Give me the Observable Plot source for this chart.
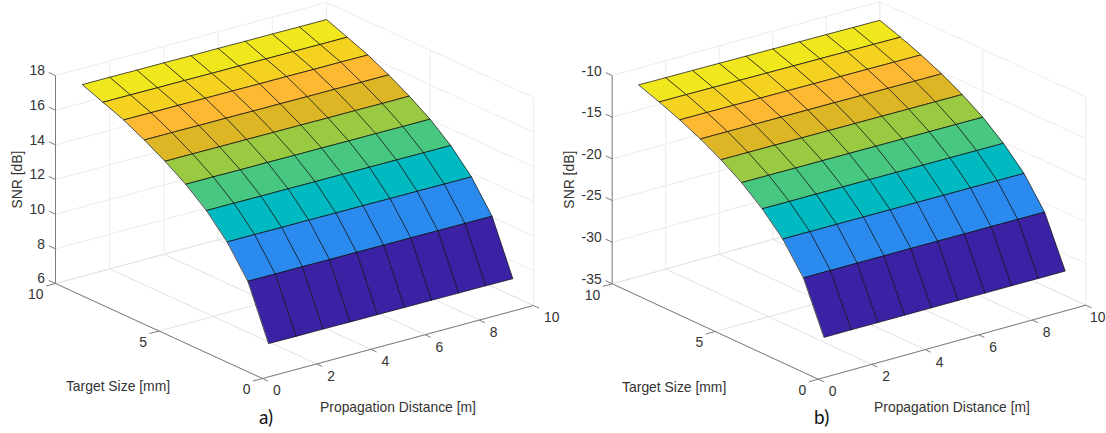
<!DOCTYPE html>
<html>
<head>
<meta charset="utf-8">
<style>html,body{margin:0;padding:0;background:#fff;overflow:hidden}svg{display:block}</style>
<script src="https://cdn.jsdelivr.net/npm/d3@7"></script>
<script src="https://cdn.jsdelivr.net/npm/@observablehq/plot@0.6"></script>
</head>
<body>
<div id="chart"></div>
<script>
const distances = [1,2,3,4,5,6,7,8,9,10];
const sizes = [1,2,3,4,5,6,7,8,9,10];

// SNR [dB] per target size (rows) and propagation distance (columns)
const snrA = [
  [7.05,7.04,7.04,7.03,7.03,7.02,7.02,7.01,7.01,7.00],
  [10.10,10.09,10.09,10.08,10.08,10.07,10.07,10.06,10.06,10.05],
  [11.82,11.82,11.81,11.81,11.80,11.80,11.79,11.79,11.78,11.78],
  [13.08,13.08,13.07,13.07,13.06,13.06,13.05,13.05,13.04,13.04],
  [14.05,14.05,14.04,14.04,14.03,14.03,14.02,14.02,14.01,14.01],
  [14.83,14.83,14.82,14.82,14.81,14.81,14.80,14.80,14.79,14.79],
  [15.51,15.51,15.50,15.50,15.49,15.49,15.48,15.48,15.47,15.47],
  [16.12,16.11,16.11,16.10,16.10,16.09,16.09,16.08,16.08,16.07],
  [16.59,16.59,16.58,16.58,16.57,16.57,16.56,16.56,16.55,16.55],
  [17.06,17.06,17.05,17.05,17.04,17.04,17.03,17.03,17.02,17.02]
];
const snrB = [
  [-32.00,-32.00,-32.01,-32.01,-32.02,-32.02,-32.03,-32.03,-32.04,-32.05],
  [-26.00,-26.01,-26.02,-26.03,-26.04,-26.05,-26.07,-26.08,-26.10,-26.12],
  [-22.48,-22.50,-22.51,-22.52,-22.54,-22.55,-22.57,-22.58,-22.60,-22.62],
  [-20.00,-20.02,-20.03,-20.05,-20.06,-20.08,-20.10,-20.11,-20.13,-20.15],
  [-18.00,-18.02,-18.04,-18.05,-18.07,-18.09,-18.11,-18.12,-18.14,-18.16],
  [-16.40,-16.42,-16.44,-16.46,-16.48,-16.50,-16.52,-16.54,-16.56,-16.58],
  [-15.05,-15.07,-15.09,-15.11,-15.13,-15.15,-15.18,-15.20,-15.22,-15.24],
  [-13.90,-13.92,-13.94,-13.97,-13.99,-14.02,-14.04,-14.06,-14.09,-14.11],
  [-12.90,-12.92,-12.95,-12.97,-13.00,-13.03,-13.05,-13.08,-13.10,-13.13],
  [-12.00,-12.03,-12.05,-12.08,-12.11,-12.14,-12.16,-12.19,-12.22,-12.25]
];

const distanceTicks = [0,2,4,6,8,10];
const sizeTicks = [0,5,10];
const snrTicksA = [6,8,10,12,14,16,18];
const snrTicksB = [-35,-30,-25,-20,-15,-10];
const rowColours = ["#3b22a5","#2a8aee","#01b9c0","#47c77f","#9aca41","#dcb625","#fdb932","#f5d120","#f0e71d"];

const W = 1106, H = 433;
const sans = "'Liberation Sans', Arial, sans-serif";
const ink = "#333333";
const labelSize = 13.9;

// Orthographic view of each 3-D box
const viewA = {ox:262, oy:378, dx:27.1, dy:-7.3, sx:-20.7, sy:-9.5, zpx:17.33, zMin:6, zMax:18, zMid:12, zTitleDx:-38};
const viewB = {ox:817.7, oy:378.7, dx:26.76, dy:-7.4, sx:-20.6, sy:-9.54, zpx:8.33, zMin:-35, zMax:-10, zMid:-22.5, zTitleDx:-42.7};

function panel(view, snr, snrTicks, letter) {
  const X = (d, s) => view.ox + view.dx * d + view.sx * s;
  const Y = (d, s, z) => view.oy + view.dy * d + view.sy * s - view.zpx * (z - view.zMin);
  const seg = (a, b) => ({x1: X(a[0], a[1]), y1: Y(a[0], a[1], a[2]), x2: X(b[0], b[1]), y2: Y(b[0], b[1], b[2])});
  const {zMin, zMax} = view;

  const walls = [];
  for (const z of snrTicks) {
    walls.push(seg([0,10,z],[10,10,z]), seg([10,10,z],[10,0,z]));
  }
  for (const d of distanceTicks) {
    walls.push(seg([d,10,zMin],[d,10,zMax]));
  }
  for (const s of sizeTicks) {
    walls.push(seg([10,s,zMin],[10,s,zMax]));
  }
  const floor = [];
  for (const d of distanceTicks) floor.push(seg([d,0,zMin],[d,10,zMin]));
  for (const s of sizeTicks) floor.push(seg([0,s,zMin],[10,s,zMin]));

  const axes = [
    seg([0,10,zMin],[0,10,zMax]),
    seg([0,10,zMin],[0,0,zMin]),
    seg([0,0,zMin],[10,0,zMin]),
    ...snrTicks.map(z => seg([0,10,z],[0,10.32,z])),
    ...sizeTicks.map(s => seg([0,s,zMin],[-0.35,s,zMin])),
    ...distanceTicks.map(d => seg([d,0,zMin],[d,-0.27,zMin]))
  ];

  const quads = [];
  for (let i = sizes.length - 2; i >= 0; i--) {
    for (let j = distances.length - 2; j >= 0; j--) {
      const id = letter + i + "-" + j;
      for (const [a, b] of [[i,j],[i,j+1],[i+1,j+1],[i+1,j]]) {
        quads.push({id, row: i, x: X(distances[b], sizes[a]), y: Y(distances[b], sizes[a], snr[a][b])});
      }
    }
  }

  const text = (rows, opts) => Plot.text(rows, {fontFamily: sans, fill: ink, fontSize: labelSize, ...opts});
  const at = (d, s, z) => ({x: X(d, s), y: Y(d, s, z)});
  // Keep a distance label wholly inside the frame when its tick sits near the right edge
  const distanceLabel = d => {
    const p = at(d, 0, zMin);
    const width = String(d).length * labelSize * 0.556;
    return {...p, x: Math.min(p.x, W - 1 - 10.5 - width), label: String(d)};
  };

  return [
    Plot.link(walls, {x1:"x1", y1:"y1", x2:"x2", y2:"y2", stroke:"#ececec", strokeWidth:1}),
    Plot.link(floor, {x1:"x1", y1:"y1", x2:"x2", y2:"y2", stroke:"#e2e2e2", strokeWidth:1}),
    Plot.link(axes, {x1:"x1", y1:"y1", x2:"x2", y2:"y2", stroke:"#7d7d7d", strokeWidth:1}),
    Plot.line(quads, {x:"x", y:"y", z:"id", fill:"row", stroke:"#0d0d0d", strokeWidth:0.8, strokeOpacity:0.9, curve:"linear-closed"}),
    text(snrTicks.map(z => ({...at(0,10,z), label:String(z)})), {x:"x", y:"y", text:"label", textAnchor:"end", dx:-10.5, dy:-4.5}),
    text(sizeTicks.map(s => ({...at(0,s,zMin), label:String(s)})), {x:"x", y:"y", text:"label", textAnchor:"end", dx:-12, dy:11.5}),
    text(distanceTicks.map(distanceLabel), {x:"x", y:"y", text:"label", textAnchor:"start", dx:10.5, dy:12.5}),
    text([{...at(0,10,view.zMid), label:"SNR [dB]"}], {x:"x", y:"y", text:"label", rotate:-90, dx:view.zTitleDx}),
    text([{...at(0,5,zMin), label:"Target Size [mm]"}], {x:"x", y:"y", text:"label", dx:-41, dy:56}),
    text([{...at(5,0,zMin), label:"Propagation Distance [m]"}], {x:"x", y:"y", text:"label", dy:65.5}),
    Plot.text([{...at(0,0,zMin), label: letter + ")"}], {x:"x", y:"y", text:"label", dx:3.5, dy:39, fontFamily:"Lato, 'Open Sans', sans-serif", fontSize:19, fill:"#111"})
  ];
}

const chart = Plot.plot({
  width: W, height: H,
  marginTop: 0, marginRight: 0, marginBottom: 0, marginLeft: 0,
  x: {type:"linear", domain:[0, W], range:[0, W], axis:null},
  y: {type:"linear", domain:[0, H], range:[0, H], axis:null},
  color: {type:"ordinal", domain:d3.range(rowColours.length), range:rowColours},
  style: {background:"#fff", fontFamily:sans},
  marks: [
    ...panel(viewA, snrA, snrTicksA, "a"),
    ...panel(viewB, snrB, snrTicksB, "b")
  ]
});
document.getElementById("chart").appendChild(chart);
</script>
</body>
</html>
